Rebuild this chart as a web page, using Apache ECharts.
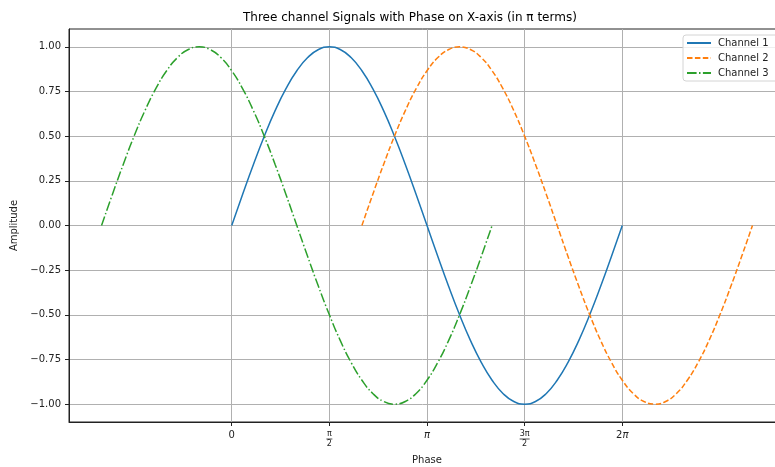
<!DOCTYPE html>
<html>
<head>
<meta charset="utf-8">
<script src="https://cdn.jsdelivr.net/npm/echarts@6/dist/echarts.min.js"></script>
<style>
  html, body { margin: 0; padding: 0; background: #ffffff; }
  #chart { width: 775px; height: 467px; }
</style>
</head>
<body>
<div id="chart"></div>
<script>
// Three-phase signals: phase in degrees, amplitude sampled every 10 degrees
const channelNames = ['Channel 1', 'Channel 2', 'Channel 3'];

const ch1Phase = [0, 10, 20, 30, 40, 50, 60, 70, 80, 90, 100, 110, 120, 130, 140, 150, 160, 170, 180,
  190, 200, 210, 220, 230, 240, 250, 260, 270, 280, 290, 300, 310, 320, 330, 340, 350, 360];
const ch1Amp = [0, 0.174, 0.342, 0.5, 0.643, 0.766, 0.866, 0.94, 0.985, 1, 0.985, 0.94, 0.866, 0.766, 0.643, 0.5, 0.342, 0.174, 0,
  -0.174, -0.342, -0.5, -0.643, -0.766, -0.866, -0.94, -0.985, -1, -0.985, -0.94, -0.866, -0.766, -0.643, -0.5, -0.342, -0.174, 0];

const ch2Phase = [120, 130, 140, 150, 160, 170, 180, 190, 200, 210, 220, 230, 240, 250, 260, 270, 280, 290, 300,
  310, 320, 330, 340, 350, 360, 370, 380, 390, 400, 410, 420, 430, 440, 450, 460, 470, 480];
const ch2Amp = [0, 0.174, 0.342, 0.5, 0.643, 0.766, 0.866, 0.94, 0.985, 1, 0.985, 0.94, 0.866, 0.766, 0.643, 0.5, 0.342, 0.174, 0,
  -0.174, -0.342, -0.5, -0.643, -0.766, -0.866, -0.94, -0.985, -1, -0.985, -0.94, -0.866, -0.766, -0.643, -0.5, -0.342, -0.174, 0];

const ch3Phase = [-120, -110, -100, -90, -80, -70, -60, -50, -40, -30, -20, -10, 0, 10, 20, 30, 40, 50, 60,
  70, 80, 90, 100, 110, 120, 130, 140, 150, 160, 170, 180, 190, 200, 210, 220, 230, 240];
const ch3Amp = [0, 0.174, 0.342, 0.5, 0.643, 0.766, 0.866, 0.94, 0.985, 1, 0.985, 0.94, 0.866, 0.766, 0.643, 0.5, 0.342, 0.174, 0,
  -0.174, -0.342, -0.5, -0.643, -0.766, -0.866, -0.94, -0.985, -1, -0.985, -0.94, -0.866, -0.766, -0.643, -0.5, -0.342, -0.174, 0];

const xTicks = [0, 90, 180, 270, 360];
const xTickLabels = ['0', 'π/2', 'π', '3π/2', '2π'];
const yTicks = [-1, -0.75, -0.5, -0.25, 0, 0.25, 0.5, 0.75, 1];

const FONT = 'DejaVu Sans';
const INK = '#222222';

function pairs(xs, ys) {
  return xs.map((x, i) => [x, ys[i]]);
}

// Turn 'a/b' into a stacked fraction, and set π in italics elsewhere
function piLabel(value) {
  const idx = xTicks.indexOf(value);
  if (idx < 0) return '';
  const s = xTickLabels[idx];
  if (s.indexOf('/') >= 0) {
    const [num, den] = s.split('/');
    const bar = num.length > 1 ? 'b2' : 'b1';
    return '{n|' + num + '}\n{' + bar + '| }\n{d|' + den + '}';
  }
  if (s.indexOf('π') >= 0) {
    const head = s.replace('π', '');
    return (head ? '{p|' + head + '}' : '') + '{i|π}';
  }
  return '{p|' + s + '}';
}

const chart = echarts.init(document.getElementById('chart'));

const lineSeries = (name, xs, ys, color, dash) => ({
  name: name,
  type: 'line',
  data: pairs(xs, ys),
  smooth: true,
  symbol: 'none',
  showSymbol: false,
  clip: true,
  lineStyle: { color: color, width: 1.5, type: dash },
  itemStyle: { color: color },
  emphasis: { disabled: true }
});

chart.setOption({
  animation: false,
  backgroundColor: '#ffffff',
  textStyle: { fontFamily: FONT },
  title: {
    text: 'Three channel Signals with Phase on X-axis (in π terms)',
    left: 243,
    top: 12,
    padding: 0,
    textStyle: { fontFamily: FONT, fontSize: 12, fontWeight: 'normal', color: '#000000' }
  },
  legend: {
    data: channelNames,
    orient: 'vertical',
    left: 683,
    top: 35,
    padding: [3, 10, 3, 3],
    itemWidth: 24,
    itemHeight: 12,
    itemGap: 5,
    itemStyle: { opacity: 0 },
    backgroundColor: 'rgba(255,255,255,0.8)',
    borderColor: '#d4d4d4',
    borderWidth: 1,
    borderRadius: 3,
    textStyle: { fontFamily: FONT, fontSize: 10, color: INK, padding: [0, 0, 0, 2] }
  },
  grid: {
    left: 69,
    right: -10,
    top: 29,
    bottom: 45,
    show: true,
    borderColor: '#222222',
    borderWidth: 1,
    outerBoundsMode: 'none'
  },
  xAxis: {
    type: 'value',
    min: -150,
    max: 510,
    name: 'Phase',
    nameLocation: 'middle',
    nameGap: 33,
    nameTextStyle: { fontFamily: FONT, fontSize: 10, color: INK },
    axisLine: { show: true, onZero: false, lineStyle: { color: INK, width: 1 } },
    axisTick: { show: true, inside: false, length: 4, customValues: xTicks, lineStyle: { color: INK, width: 1 } },
    splitLine: { show: true, lineStyle: { color: '#b0b0b0', width: 1 } },
    axisLabel: {
      customValues: xTicks,
      margin: 8,
      color: INK,
      fontFamily: FONT,
      fontSize: 10,
      formatter: piLabel,
      rich: {
        p: { fontFamily: FONT, fontSize: 10, color: INK },
        i: { fontFamily: FONT, fontSize: 10, fontStyle: 'italic', color: INK },
        n: { fontFamily: FONT, fontSize: 8, lineHeight: 8, color: INK, align: 'center' },
        d: { fontFamily: FONT, fontSize: 8, lineHeight: 8, color: INK, align: 'center' },
        b1: { fontSize: 1, width: 6, height: 0.8, lineHeight: 2, backgroundColor: INK, align: 'center' },
        b2: { fontSize: 1, width: 10, height: 0.8, lineHeight: 2, backgroundColor: INK, align: 'center' }
      }
    }
  },
  yAxis: {
    type: 'value',
    min: -1.1,
    max: 1.1,
    name: 'Amplitude',
    nameLocation: 'middle',
    nameGap: 45,
    nameTextStyle: { fontFamily: FONT, fontSize: 10, color: INK },
    axisLine: { show: true, onZero: false, lineStyle: { color: INK, width: 1 } },
    axisTick: { show: true, inside: false, length: 4, customValues: yTicks, lineStyle: { color: INK, width: 1 } },
    splitLine: { show: true, lineStyle: { color: '#b0b0b0', width: 1 } },
    axisLabel: {
      customValues: yTicks,
      margin: 8,
      color: INK,
      fontFamily: FONT,
      fontSize: 10,
      formatter: v => v.toFixed(2).replace('-', '\u2212')
    }
  },
  series: [
    lineSeries(channelNames[0], ch1Phase, ch1Amp, '#1f77b4', 'solid'),
    lineSeries(channelNames[1], ch2Phase, ch2Amp, '#ff7f0e', [5.5, 2.4]),
    lineSeries(channelNames[2], ch3Phase, ch3Amp, '#2ca02c', [9.6, 2.4, 1.5, 2.4])
  ]
});
</script>
</body>
</html>
